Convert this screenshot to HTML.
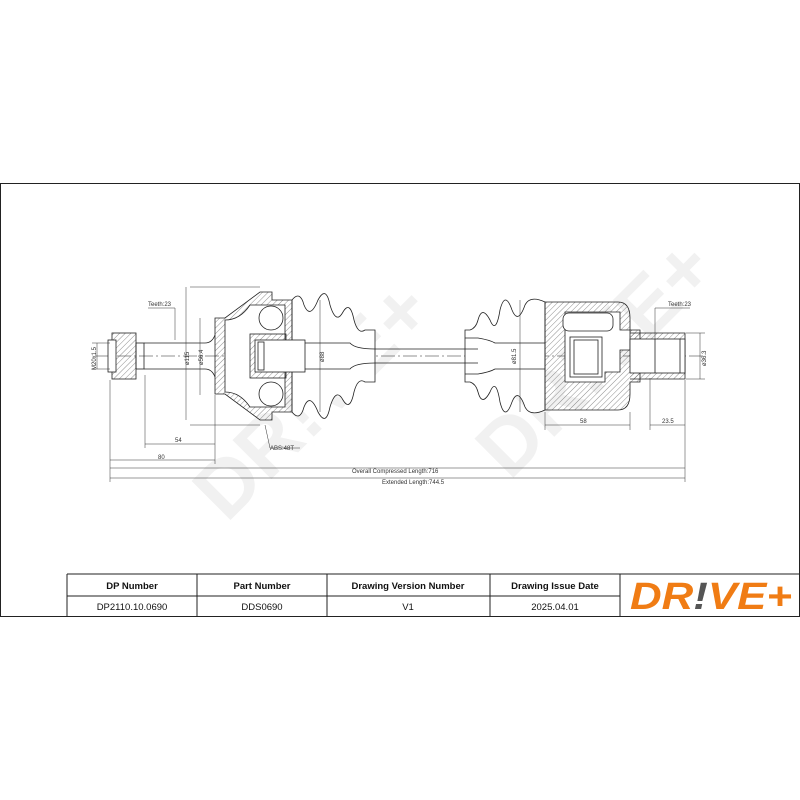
<!DOCTYPE html>
<html><head><meta charset="utf-8"><style>
body{margin:0;background:#fff;width:800px;height:800px;overflow:hidden}
svg{position:absolute;left:0;top:0}
text{font-family:"Liberation Sans",sans-serif}
</style></head><body>
<svg width="800" height="800" viewBox="0 0 800 800">
<defs>
<pattern id="h" width="4" height="4" patternUnits="userSpaceOnUse" patternTransform="rotate(45)">
<line x1="0" y1="0" x2="0" y2="4" stroke="#444" stroke-width="0.6"/></pattern>
</defs>
<rect x="0.5" y="183.5" width="799" height="433" fill="none" stroke="#222" stroke-width="1"/>
<g fill="#f1f1f1" font-size="80" font-weight="bold" transform="rotate(-45 400 400)">
<text x="190" y="365">DR!VE+</text>
<text x="420" y="535">DR!VE+</text>
</g>
<g stroke="#222" stroke-width="0.8" fill="none">
<line x1="95" y1="356" x2="705" y2="356" stroke-dasharray="14,3,2,3" stroke-width="0.5"/>
<rect x="112" y="333" width="24" height="46" fill="url(#h)"/>
<rect x="108" y="340" width="8" height="32" fill="#fff"/>
<rect x="136" y="343" width="8" height="26"/>
<path d="M144 343 H205 Q212 343 215 335 M144 369 H205 Q212 369 215 377"/>
<path d="M292 300 Q300 290 304 305 Q310 320 318 300 Q326 285 330 305 Q336 325 343 312 Q350 300 354 320 Q358 335 365 330 H375 V382 H365 Q358 377 354 392 Q350 412 343 400 Q336 387 330 407 Q326 427 318 412 Q310 392 304 407 Q300 422 292 412 Z" fill="#fff"/>
<path d="M215 318 H225 L260 292 H272 V300 L292 300 V412 H272 V420 H260 L225 394 H215 Z" fill="url(#h)"/>
<path d="M225 320 Q240 320 250 305 H285 V407 H250 Q240 392 225 392 Z" fill="#fff"/>
<circle cx="271" cy="318" r="12" fill="#fff"/>
<circle cx="271" cy="394" r="12" fill="#fff"/>
<rect x="250" y="334" width="36" height="44" fill="url(#h)"/>
<rect x="255" y="340" width="50" height="32" fill="#fff"/>
<rect x="258" y="342" width="6" height="28"/>
<path d="M305 343 H350 Q355 349 375 349 M305 369 H350 Q355 363 375 363"/>
<path d="M375 349 H465 M375 363 H465"/>
<path d="M465 330 H470 Q476 328 478 320 Q482 305 490 320 Q496 335 500 310 Q505 290 512 310 Q518 325 525 305 Q530 295 545 302 V410 Q530 417 525 407 Q518 387 512 402 Q505 422 500 402 Q496 377 490 392 Q482 407 478 392 Q476 384 470 382 H465 Z" fill="#fff"/>
<path d="M465 338 H478 Q490 340 495 343 H545 M465 374 H478 Q490 372 495 369 H545 M465 349 H478 M465 363 H478"/>
<path d="M545 302 H618 Q630 302 630 318 V330 H640 V382 H630 V394 Q630 410 618 410 H545 Z" fill="url(#h)"/>
<path d="M565 312 H620 V330 H630 V350 H620 V372 H605 V382 H565 Z" fill="#fff"/>
<rect x="563" y="313" width="50" height="18" rx="6" fill="#fff"/>
<rect x="570" y="337" width="32" height="40" fill="#fff"/>
<rect x="574" y="340" width="24" height="34"/>
<path d="M630 333 H685 V379 H630" fill="url(#h)"/>
<rect x="630" y="339" width="55" height="34" fill="#fff"/>
<path d="M655 339 V373 M680 339 V373"/>
</g>
<g stroke="#333" stroke-width="0.5" fill="none">
<path d="M110 468 H685 M110 478 H685 M110 380 V482 M685 380 V482"/>
<path d="M110 460 H215 M145 444 H215 M145 375 V448 M215 395 V464"/>
<path d="M190 287 H260 M186 287 V420 M190 425 H260"/>
<path d="M200 318 V395 M320 300 V412 M520 300 V412"/>
<path d="M545 425 H630 M545 412 V430 M630 412 V430 M650 425 H685 M650 378 V430"/>
<path d="M686 333 H705 M686 379 H705 M700 333 V379 M92 343 H110 M92 369 H110 M97 343 V369"/>
<path d="M175 340 V308 H148 M655 339 V308 H690 M265 425 L270 448 H300"/>
</g>
<g font-size="6" fill="#333">
<text x="148" y="306">Teeth:23</text>
<text x="668" y="306">Teeth:23</text>
<text x="270" y="450">ABS:48T</text>
<text x="175" y="442">54</text>
<text x="158" y="459">80</text>
<text x="580" y="423">58</text>
<text x="662" y="423">23.5</text>
<text x="352" y="473">Overall Compressed Length:716</text>
<text x="382" y="484">Extended Length:744.5</text>
<text transform="translate(96 370) rotate(-90)">M20x1.5</text>
<text transform="translate(189 365) rotate(-90)">ø115</text>
<text transform="translate(203 365) rotate(-90)">ø56.4</text>
<text transform="translate(324 362) rotate(-90)">ø88</text>
<text transform="translate(516 364) rotate(-90)">ø81.5</text>
<text transform="translate(706 366) rotate(-90)">ø36.3</text>
</g>
<g stroke="#222" stroke-width="1" fill="none">
<path d="M67 574 H800 M67 596 H620 M67 574 V617 M197 574 V617 M327 574 V617 M490 574 V617 M620 574 V617"/>
</g>
<g font-size="9.5" text-anchor="middle" fill="#111">
<text x="132" y="589" font-weight="bold">DP Number</text>
<text x="262" y="589" font-weight="bold">Part Number</text>
<text x="408" y="589" font-weight="bold">Drawing Version Number</text>
<text x="555" y="589" font-weight="bold">Drawing Issue Date</text>
<text x="132" y="610">DP2110.10.0690</text>
<text x="262" y="610">DDS0690</text>
<text x="408" y="610">V1</text>
<text x="555" y="610">2025.04.01</text>
</g>
<text x="711" y="609" text-anchor="middle" font-size="38" font-weight="bold" font-style="italic" fill="#f07c14" textLength="162" lengthAdjust="spacingAndGlyphs">DR<tspan fill="#555">!</tspan>VE+</text>
</svg>
</body></html>
